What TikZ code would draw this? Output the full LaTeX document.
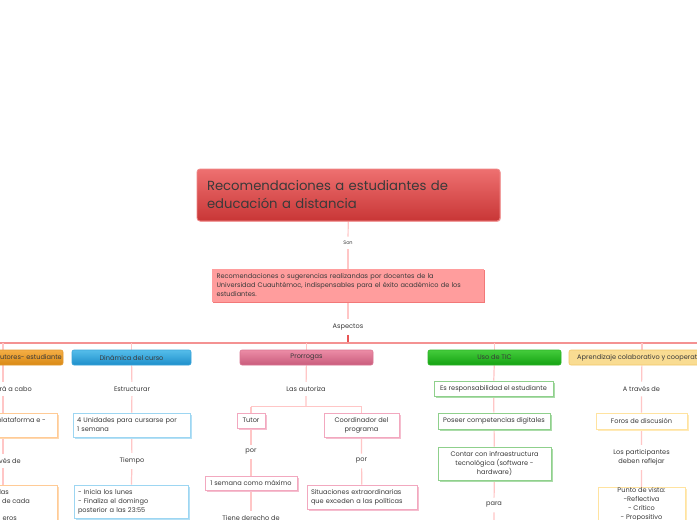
\documentclass[tikz,border=0pt]{standalone}
\usepackage{fontspec}
\setmainfont{Poppins}
\usetikzlibrary{shadows,backgrounds}
\definecolor{txt}{HTML}{3A3A3A}
\definecolor{linepink}{HTML}{FFC6C6}
\definecolor{linemid}{HTML}{F49292}
\definecolor{linedark}{HTML}{E85454}
\definecolor{titletop}{HTML}{EE7070}
\definecolor{titlebot}{HTML}{C83636}
\definecolor{titledraw}{HTML}{F08A8A}
\definecolor{boxtwo}{HTML}{FF9D9D}
\definecolor{boxtwoshadow}{HTML}{F27878}
\definecolor{orgtop}{HTML}{F5AE45}
\definecolor{orgbot}{HTML}{D98914}
\definecolor{orgdraw}{HTML}{E39A30}
\definecolor{blutop}{HTML}{55BDEA}
\definecolor{blubot}{HTML}{1E8FCB}
\definecolor{bludraw}{HTML}{3AA5DA}
\definecolor{pnktop}{HTML}{EC8CA6}
\definecolor{pnkbot}{HTML}{C95C7C}
\definecolor{pnkdraw}{HTML}{DA7592}
\definecolor{grntop}{HTML}{44CC3C}
\definecolor{grnbot}{HTML}{14A212}
\definecolor{grndraw}{HTML}{2CB426}
\definecolor{yelfill}{HTML}{F9DC92}
\definecolor{yeldraw}{HTML}{F2C868}
\definecolor{korg}{HTML}{FFCB96}
\definecolor{kblu}{HTML}{9DD6F2}
\definecolor{kpnk}{HTML}{F2A8BF}
\definecolor{kgrn}{HTML}{8FD08C}
\definecolor{kyel}{HTML}{FFE3A0}
\newcommand\fsm{\fontsize{6.6}{9}\selectfont}
\tikzset{
  conn/.style={draw=linepink, line width=1.2pt},
  hline/.style={draw=linemid, line width=1.2pt},
  dconn/.style={draw=linedark, line width=1.2pt},
  lbl/.style={font=\fsm, text=txt, inner xsep=2pt, inner ysep=4.5pt, align=center},
  catbox/.style={rounded corners=2pt, minimum height=15pt, inner sep=0pt, font=\fsm, text=txt, line width=0.6pt},
  kid/.style={draw=#1, fill=white, line width=0.9pt, inner sep=0pt, font=\fsm, text=txt,
    drop shadow={shadow xshift=1.6pt, shadow yshift=-1.6pt, fill=#1!75, opacity=1}},
}
\begin{document}
\begin{tikzpicture}[x=1pt,y=-1pt]
\useasboundingbox (0,0) rectangle (697,520);
\clip (0,0) rectangle (697,520);
\begin{pgfonlayer}{background}
  \fill[white] (0,0) rectangle (697,520);
\end{pgfonlayer}

% title and upper chain
\node[rounded corners=3pt, top color=titletop, bottom color=titlebot, draw=titledraw, line width=0.8pt,
  minimum width=303pt, minimum height=52pt, text width=283pt, inner sep=0pt, align=left,
  font=\fontsize{13.2}{18}\selectfont, text=txt,
  drop shadow={shadow xshift=0.8pt, shadow yshift=-0.8pt, fill=titledraw, opacity=0.6}] (T) at (348.5,195)
  {Recomendaciones a estudiantes de\\educación a distancia};
\node[lbl, font=\fontsize{5}{6}\selectfont] (S) at (348,243) {Son};
\node[fill=boxtwo, minimum width=272pt, minimum height=33pt, text width=263pt, inner sep=0pt, align=left,
  font=\fsm, text=txt,
  drop shadow={shadow xshift=1.3pt, shadow yshift=-1.3pt, fill=boxtwoshadow, opacity=1}] (B) at (348,285.5)
  {Recomendaciones o sugerencias realizandas por docentes de la\\Universidad Cuauhtémoc, indispensables para el éxito académico de los\\estudiantes.};
\node[lbl] (A) at (348,327) {Aspectos};
\coordinate (hub) at (348,343);
\coordinate (hl) at (-80,343);
\coordinate (hr) at (790,343);

% categories
\node[catbox, top color=orgtop, bottom color=orgbot, draw=orgdraw, minimum width=120pt] (C1) at (3,357.5) {};
\node[font=\fsm, text=txt, anchor=east, inner sep=0pt] (C1t) at (62,357.5) {tutores- estudiante};
\node[catbox, top color=blutop, bottom color=blubot, draw=bludraw, minimum width=119pt] (C2) at (131.5,357.5) {Dinámica del curso};
\node[catbox, top color=pnktop, bottom color=pnkbot, draw=pnkdraw, minimum width=133pt] (C3) at (306.5,357.5) {Prorrogas};
\node[catbox, top color=grntop, bottom color=grnbot, draw=grndraw, minimum width=133pt] (C4) at (494.5,357.5) {Uso de TIC};
\node[catbox, fill=yelfill, draw=yeldraw, minimum width=146pt] (C5) at (642,357.5) {Aprendizaje colaborativo y cooperativo};

% left column (cut off)
\node[font=\fsm, text=txt, anchor=east, inner xsep=0pt, inner ysep=4.5pt] (L1) at (32,389) {llevará a cabo};
\node[kid=korg, minimum width=108pt, minimum height=24pt] (LB1) at (3,425) {};
\node[font=\fsm, text=txt, anchor=east, inner sep=0pt] (LB1t) at (46,420.5) {plataforma e -};
\node[font=\fsm, text=txt, anchor=east, inner xsep=0pt, inner ysep=4.5pt] (L2) at (21,461) {través de};
\node[kid=korg, minimum width=108pt, minimum height=50pt] (LB2) at (3,510) {};
\node[font=\fsm, text=txt, anchor=east, inner sep=0pt] (LB2a) at (9,492) {las};
\node[font=\fsm, text=txt, anchor=east, inner sep=0pt] (LB2b) at (30,501) {de cada};
\node[font=\fsm, text=txt, anchor=east, inner sep=0pt] (LB2c) at (17,518.5) {eros};

% Dinamica column
\node[lbl] (D1) at (132,389) {Estructurar};
\node[kid=kblu, minimum width=117pt, minimum height=24pt, text width=109pt, align=left] (DB1) at (131.5,425)
  {4 Unidades para cursarse por\\1 semana};
\node[lbl] (D2) at (132,461) {Tiempo};
\node[kid=kblu, minimum width=114pt, minimum height=33pt, text width=106pt, align=left] (DB2) at (131,501.5)
  {- Inicia los lunes\\- Finaliza el domingo\\posterior a las 23:55};

% Prorrogas column
\node[lbl] (P1) at (306,389) {Las autoriza};
\coordinate (pb) at (306,406.5);
\node[kid=kpnk, minimum width=28pt, minimum height=15pt] (Tut) at (251,420.5) {Tutor};
\node[kid=kpnk, minimum width=75pt, minimum height=24pt, align=center] (Coo) at (361.5,425) {Coordinador del\\programa};
\node[lbl] (P2) at (251,452) {por};
\node[lbl] (P3) at (361.5,461) {por};
\node[kid=kpnk, minimum width=92pt, minimum height=14pt] (PB1) at (251,483) {1 semana como máximo};
\node[kid=kpnk, minimum width=110pt, minimum height=24pt, text width=102pt, align=left] (PB2) at (362,497)
  {Situaciones extraordinarias\\que exceden a las políticas};
\node[lbl] (P4) at (251,518) {Tiene derecho de};

% Uso de TIC column
\node[kid=kgrn, minimum width=119pt, minimum height=15pt] (U1) at (493.5,388.5) {Es responsabilidad el estudiante};
\node[kid=kgrn, minimum width=112pt, minimum height=16pt] (U2) at (494,421) {Poseer competencias digitales};
\node[kid=kgrn, minimum width=113pt, minimum height=33pt, align=center] (U3) at (494.5,463.5)
  {Contar con infraestructura\\tecnológica (software -\\hardware)};
\node[lbl] (U4) at (494,505) {para};
\coordinate (ubot) at (494,535);

% Aprendizaje column
\node[lbl] (Y1) at (641.5,389) {A través de};
\node[kid=kyel, minimum width=91pt, minimum height=16pt] (YB1) at (641.5,421) {Foros de discusión};
\node[lbl] (Y2) at (641.5,457.5) {Los participantes\\deben reflejar};
\node[kid=kyel, minimum width=87pt, minimum height=50pt, align=center, anchor=north] (YB2) at (641.5,487)
  {Punto de vista:\\-Reflectiva\\- Crítico\\- Propositivo\\[8pt]};

\begin{pgfonlayer}{background}
  \draw[conn] (T) -- (S);
  \draw[conn] (S) -- (B);
  \draw[conn] (B) -- (A);
  \draw[dconn] (A) -- (hub);
  \draw[hline] (hl) -- (hr);
  \draw[conn] (C1 |- hub) -- (C1);
  \draw[conn] (C2 |- hub) -- (C2);
  \draw[conn] (C3 |- hub) -- (C3);
  \draw[conn] (C4 |- hub) -- (C4);
  \draw[conn] (C5 |- hub) -- (C5);
  % left
  \draw[conn] (C1) -- (C1.south |- L1.north);
  \draw[conn] (C1.south |- L1.south) -- (LB1);
  \draw[conn] (LB1) -- (LB1.south |- L2.north);
  \draw[conn] (LB1.south |- L2.south) -- (LB2);
  % dinamica
  \draw[conn] (C2) -- (D1) -- (DB1) -- (D2) -- (DB2);
  % prorrogas
  \draw[conn] (C3) -- (P1) -- (pb);
  \draw[conn] (Tut |- pb) -- (Coo |- pb);
  \draw[conn] (Tut |- pb) -- (Tut);
  \draw[conn] (Coo |- pb) -- (Coo);
  \draw[conn] (Tut) -- (P2) -- (PB1) -- (P4);
  \draw[conn] (Coo) -- (P3) -- (PB2);
  % TIC
  \draw[conn] (C4) -- (U1) -- (U2) -- (U3) -- (U4) -- (ubot);
  % aprendizaje
  \draw[conn] (C5) -- (Y1) -- (YB1) -- (Y2) -- (YB2);
\end{pgfonlayer}
\end{tikzpicture}
\end{document}
